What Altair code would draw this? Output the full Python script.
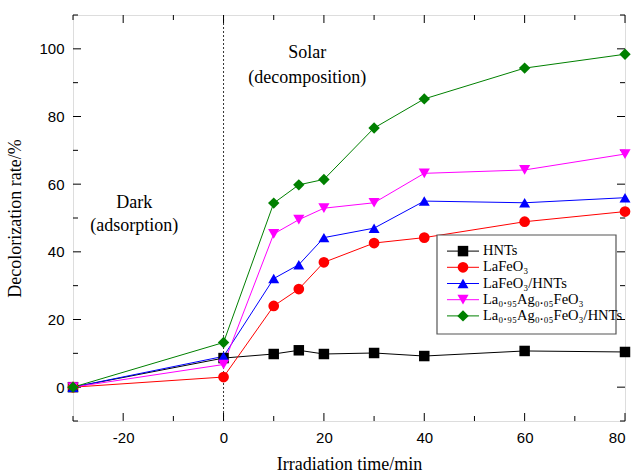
import altair as alt
import pandas as pd

# ---- data ----
times = [-30, 0, 10, 15, 20, 30, 40, 60, 80]
series_names = ["HNTs", "LaFeO₃", "LaFeO₃/HNTs", "La₀.₉₅Ag₀.₀₅FeO₃", "La₀.₉₅Ag₀.₀₅FeO₃/HNTs"]
hnts = [0, 8.6, 9.8, 10.9, 9.8, 10.1, 9.2, 10.7, 10.4]
lafeo3 = [0, 3.0, 24.0, 29.0, 36.9, 42.6, 44.2, 48.9, 51.9]
lafeo3_hnts = [0, 9.1, 32.1, 36.2, 44.2, 47.0, 55.0, 54.5, 56.0]
laag = [0, 6.7, 45.3, 49.5, 52.9, 54.5, 63.2, 64.2, 68.9]
laag_hnts = [0, 13.2, 54.4, 59.8, 61.4, 76.6, 85.2, 94.3, 98.4]
series_values = [hnts, lafeo3, lafeo3_hnts, laag, laag_hnts]
colors = ["#000000", "#ff0000", "#0000ff", "#ff00ff", "#008000"]
shapes = ["square", "circle", "triangle-up", "triangle-down", "diamond"]
marker_sizes = [110, 130, 210, 210, 190]

x_labels = [-20, 0, 20, 40, 60, 80]
x_minor = [-30, -10, 10, 30, 50, 70]
y_labels = [0, 20, 40, 60, 80, 100]
y_minor = [-10, 10, 30, 50, 70, 90, 110]

annot_text = ["Solar", "(decomposition)", "Dark", "(adsorption)"]
annot_x = [16.7, 16.7, -17.8, -17.8]
annot_y = [98.8, 91.5, 54.5, 47.5]

rows = []
for name, vals in zip(series_names, series_values):
    for t, v in zip(times, vals):
        rows.append({"series": name, "t": t, "v": v})
df = pd.DataFrame(rows)

W, H = 552, 406
SERIF = "Liberation Serif"
SANS = "Liberation Sans"

xs = alt.Scale(domain=[-30, 80], nice=False, zero=False)
ys = alt.Scale(domain=[-10, 110], nice=False, zero=False)
cs = alt.Scale(domain=series_names, range=colors)
ss = alt.Scale(domain=series_names, range=shapes)
zs = alt.Scale(domain=series_names, range=marker_sizes)

axis_common = dict(labelFont=SANS, labelFontSize=15, labelColor="black",
                   titleFont=SERIF, titleFontSize=18, titleFontWeight="normal",
                   titleColor="black", ticks=False, domain=False, grid=False,
                   labelPadding=9, labelExpr="'' + datum.value")

base = alt.Chart(df)

lines = base.mark_line(strokeWidth=1).encode(
    x=alt.X("t:Q", scale=xs, title="Irradiation time/min",
            axis=alt.Axis(values=x_labels, titlePadding=10, **axis_common)),
    y=alt.Y("v:Q", scale=ys, title="Decolorization rate/%",
            axis=alt.Axis(values=y_labels, titlePadding=14, **axis_common)),
    color=alt.Color("series:N", scale=cs, legend=None),
    detail="series:N",
)
points = base.mark_point(filled=True, opacity=1).encode(
    x=alt.X("t:Q", scale=xs),
    y=alt.Y("v:Q", scale=ys),
    color=alt.Color("series:N", scale=cs, legend=None),
    shape=alt.Shape("series:N", scale=ss, legend=None),
    size=alt.Size("series:O", scale=zs, legend=None),
)

vline = alt.Chart(pd.DataFrame({"t": [0]})).mark_rule(
    color="#333333", strokeDash=[2, 2], strokeWidth=1
).encode(x=alt.X("t:Q", scale=xs))

ann = alt.Chart(pd.DataFrame({"txt": annot_text, "x": annot_x, "y": annot_y})).mark_text(
    font=SERIF, fontSize=18, color="black", align="center", baseline="middle"
).encode(x=alt.X("x:Q", scale=xs), y=alt.Y("y:Q", scale=ys), text="txt:N")

# inward ticks on all four sides
def xticks(vals, length):
    d = alt.Chart(pd.DataFrame({"t": vals}))
    b = d.mark_rule(color="black", strokeWidth=1).encode(
        x=alt.X("t:Q", scale=xs), y=alt.value(H), y2=alt.value(H - length))
    t = d.mark_rule(color="black", strokeWidth=1).encode(
        x=alt.X("t:Q", scale=xs), y=alt.value(0), y2=alt.value(length))
    return [b, t]

def yticks(vals, length):
    d = alt.Chart(pd.DataFrame({"v": vals}))
    l = d.mark_rule(color="black", strokeWidth=1).encode(
        y=alt.Y("v:Q", scale=ys), x=alt.value(0), x2=alt.value(length))
    r = d.mark_rule(color="black", strokeWidth=1).encode(
        y=alt.Y("v:Q", scale=ys), x=alt.value(W), x2=alt.value(W - length))
    return [l, r]

ticks = xticks(x_labels, 8) + xticks(x_minor, 5) + yticks(y_labels, 8) + yticks(y_minor, 5)

# legend built from the same series list
leg_df = pd.DataFrame({"series": series_names, "row": list(range(len(series_names)))})
ly = alt.Scale(domain=list(range(len(series_names))), range=[228, 309])
leg_box = alt.Chart(pd.DataFrame({"a": [0]})).mark_rect(
    fill="white", stroke="#555555", strokeWidth=1.2
).encode(x=alt.value(364), x2=alt.value(543), y=alt.value(220), y2=alt.value(319))
leg_base = alt.Chart(leg_df)
leg_lines = leg_base.mark_rule(strokeWidth=1).encode(
    y=alt.Y("row:O", scale=ly, axis=None), x=alt.value(374), x2=alt.value(406),
    color=alt.Color("series:N", scale=cs, legend=None))
leg_pts = leg_base.mark_point(filled=True, opacity=1).encode(
    y=alt.Y("row:O", scale=ly, axis=None), x=alt.value(390),
    color=alt.Color("series:N", scale=cs, legend=None),
    shape=alt.Shape("series:N", scale=ss, legend=None),
    size=alt.Size("series:O", scale=zs, legend=None))
leg_txt = leg_base.mark_text(font=SERIF, fontSize=14.5, color="black", align="left",
                             baseline="middle").encode(
    y=alt.Y("row:O", scale=ly, axis=None), x=alt.value(410), text="series:N")

main = alt.layer(vline, *ticks, lines, points, ann)
legend = alt.layer(leg_box, leg_lines, leg_pts, leg_txt)

chart = alt.layer(main, legend).resolve_scale(y="independent").properties(
    width=W, height=H,
    autosize=alt.AutoSizeParams(type="none"),
    padding={"left": 73, "top": 15, "right": 9, "bottom": 55},
).configure_view(stroke="black", strokeWidth=1.5).configure(background="white")

chart.save("out.html", embed_options={"renderer": "svg", "actions": False})
